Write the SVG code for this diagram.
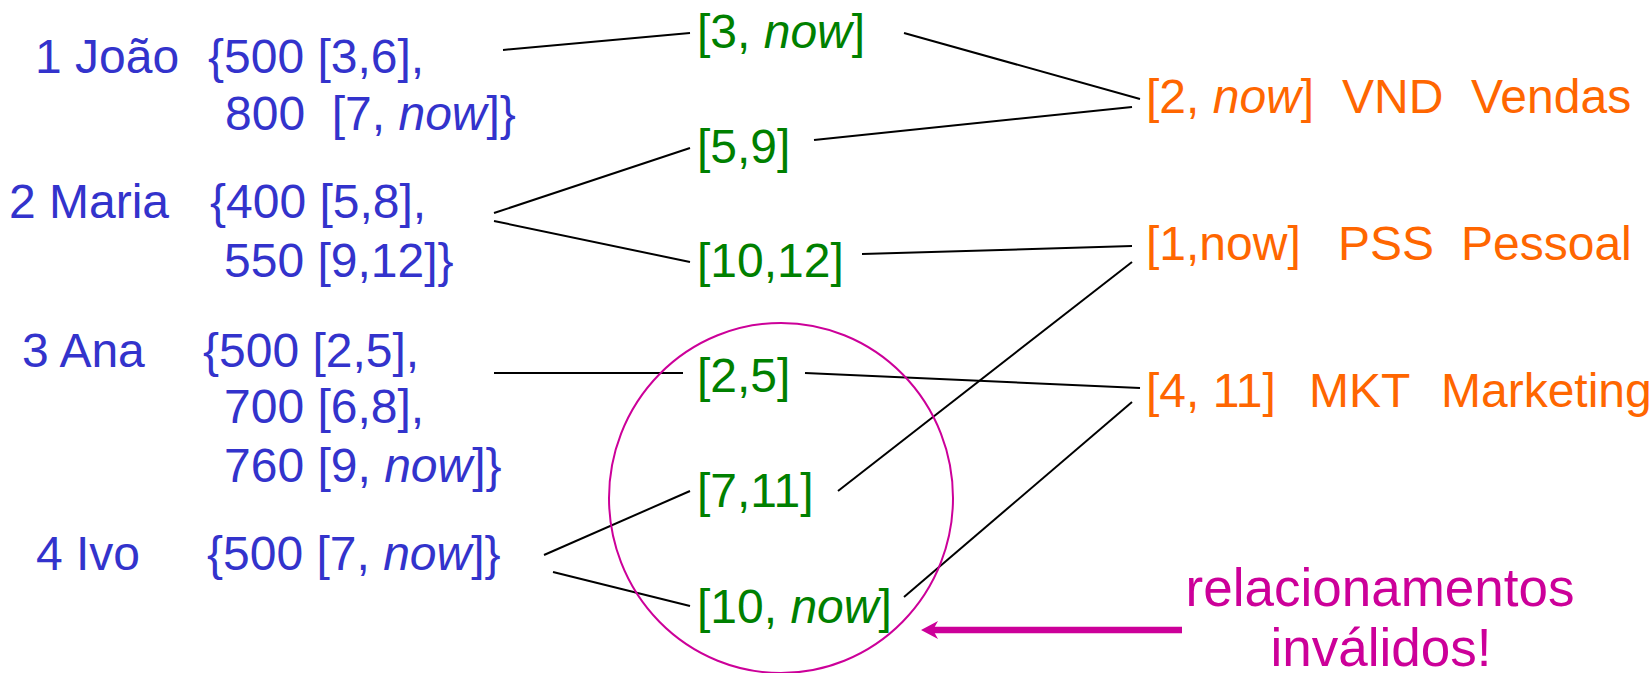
<svg xmlns="http://www.w3.org/2000/svg" width="1651" height="673" viewBox="0 0 1651 673">
<style>
text { font-family: "Liberation Sans", Arial, sans-serif; font-size: 48px; }
.emp { fill: #3333CC; }
.per { fill: #008000; }
.dep { fill: #FF6600; }
.note { fill: #CC0099; font-size: 53px; text-anchor: middle; }
.i { font-style: italic; }
.conn line { stroke: #000; stroke-width: 2; }
</style>
<rect width="1651" height="673" fill="#fff"/>

<g id="connectors" class="conn">
  <line x1="503" y1="50" x2="690" y2="33"/>
  <line x1="904" y1="33" x2="1140" y2="99"/>
  <line x1="494" y1="213" x2="690" y2="148"/>
  <line x1="494" y1="221" x2="690" y2="262"/>
  <line x1="814" y1="140" x2="1132" y2="107"/>
  <line x1="862" y1="254" x2="1132" y2="246"/>
  <line x1="494" y1="373" x2="683" y2="373"/>
  <line x1="805" y1="373" x2="1140" y2="388"/>
  <line x1="838" y1="491" x2="1132" y2="262"/>
  <line x1="544" y1="555" x2="690" y2="491"/>
  <line x1="553" y1="572" x2="690" y2="606"/>
  <line x1="904" y1="597" x2="1132" y2="402"/>
</g>

<g id="emp1">
  <text class="emp" x="35" y="73">1 João</text>
  <text class="emp" x="208" y="73">{500 [3,6],</text>
  <text class="emp" x="225" y="130" xml:space="preserve">800  [7, <tspan class="i">now</tspan>]}</text>
</g>
<g id="emp2">
  <text class="emp" x="9" y="218">2 Maria</text>
  <text class="emp" x="210" y="218">{400 [5,8],</text>
  <text class="emp" x="224" y="277">550 [9,12]}</text>
</g>
<g id="emp3">
  <text class="emp" x="22" y="367">3 Ana</text>
  <text class="emp" x="203" y="367">{500 [2,5],</text>
  <text class="emp" x="224" y="423">700 [6,8],</text>
  <text class="emp" x="224" y="482" xml:space="preserve">760 [9, <tspan class="i">now</tspan>]}</text>
</g>
<g id="emp4">
  <text class="emp" x="36" y="570">4 Ivo</text>
  <text class="emp" x="207" y="570" xml:space="preserve">{500 [7, <tspan class="i">now</tspan>]}</text>
</g>

<g id="p1"><text class="per" x="697" y="48" xml:space="preserve">[3, <tspan class="i">now</tspan>]</text></g>
<g id="p2"><text class="per" x="697" y="163">[5,9]</text></g>
<g id="p3"><text class="per" x="697" y="277">[10,12]</text></g>
<g id="p4"><text class="per" x="697" y="392">[2,5]</text></g>
<g id="p5"><text class="per" x="697" y="507">[7,11]</text></g>
<g id="p6"><text class="per" x="697" y="623" xml:space="preserve">[10, <tspan class="i">now</tspan>]</text></g>

<g id="dep1">
  <text class="dep" x="1146" y="113" xml:space="preserve">[2, <tspan class="i">now</tspan>]</text>
  <text class="dep" x="1342" y="113">VND</text>
  <text class="dep" x="1471" y="113">Vendas</text>
</g>
<g id="dep2">
  <text class="dep" x="1146" y="260">[1,now]</text>
  <text class="dep" x="1338" y="260">PSS</text>
  <text class="dep" x="1461" y="260">Pessoal</text>
</g>
<g id="dep3">
  <text class="dep" x="1146" y="407">[4, 11]</text>
  <text class="dep" x="1309" y="407">MKT</text>
  <text class="dep" x="1441" y="407">Marketing</text>
</g>

<g id="invalid-highlight">
  <ellipse cx="781" cy="498" rx="172" ry="175" fill="none" stroke="#CC0099" stroke-width="2"/>
  <line x1="1182" y1="630" x2="933" y2="630" stroke="#CC0099" stroke-width="6.5"/>
  <polygon points="921,630 938,621 933,630 938,639" fill="#CC0099"/>
</g>

<g id="note">
  <text class="note" x="1380" y="606">relacionamentos</text>
  <text class="note" x="1381" y="666">inválidos!</text>
</g>
</svg>
